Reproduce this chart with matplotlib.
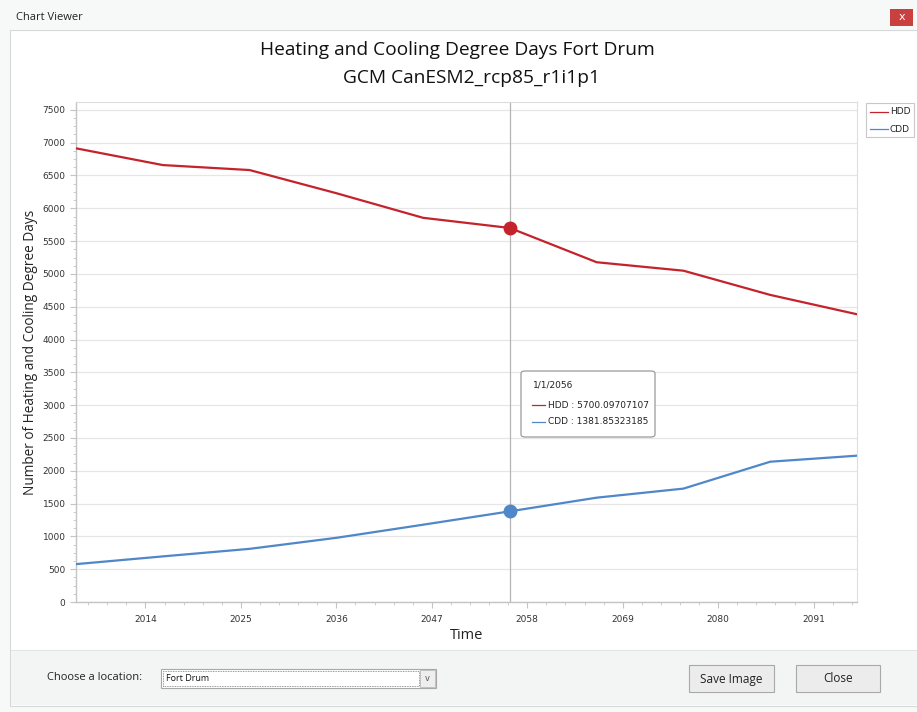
import matplotlib
matplotlib.use("Agg")
import matplotlib.pyplot as plt
from matplotlib.patches import Rectangle, FancyBboxPatch
from matplotlib.lines import Line2D
from matplotlib.ticker import MultipleLocator, FixedLocator

# ---------------- data ----------------
years = [2006, 2016, 2026, 2036, 2046, 2056, 2066, 2076, 2086, 2096]
hdd = [6914, 6659, 6583, 6230, 5855, 5700.09707107, 5178, 5049, 4680, 4385]
cdd = [577, 695, 810, 978, 1178, 1381.85323185, 1590, 1728, 2138, 2230]
xtick_years = [2014, 2025, 2036, 2047, 2058, 2069, 2080, 2091]
hover_year = 2056
hover_label = "1/1/2056"
title_lines = ["Heating and Cooling Degree Days Fort Drum", "GCM CanESM2_rcp85_r1i1p1"]

HDD_C = "#c4232c"
CDD_C = "#4f87c9"

W, H = 917, 712
fig = plt.figure(figsize=(W / 100, H / 100), dpi=100)
fig.patch.set_facecolor("white")


def fx(x):
    return x / W


def fy(y):
    return 1 - y / H


def rect(x0, y0, x1, y1, fc, ec="none", lw=0.8, z=0, **kw):
    r = Rectangle((fx(x0), fy(y1)), fx(x1) - fx(x0), fy(y0) - fy(y1),
                  transform=fig.transFigure, facecolor=fc, edgecolor=ec,
                  linewidth=lw, zorder=z, **kw)
    fig.patches.append(r)
    return r


# window chrome
rect(0, 0, W, H, "#f7f9f9", z=0)
rect(10, 30, W + 5, 706, "white", ec="#d6d9d9", z=0.5)
rect(11, 650, W + 5, 705, "#f3f5f5", ec="none", z=0.6)
fig.lines.append(Line2D([fx(11), fx(W)], [fy(650), fy(650)], transform=fig.transFigure,
                        color="#e4e6e6", lw=0.8, zorder=0.7))
fig.text(fx(16), fy(18), "Chart Viewer", fontsize=8, family="Open Sans",
         color="#222222", va="center", ha="left")
rect(890, 9, 913, 26, "#c9403f", z=1)
fig.text(fx(901.5), fy(17.5), "x", fontsize=8, color="white", ha="center", va="center",
         zorder=2)

# bottom panel controls
fig.text(fx(47), fy(677), "Choose a location:", fontsize=8, family="Open Sans",
         color="#222222", va="center", ha="left")
rect(161, 669, 436, 688, "white", ec="#a8a8a8", z=1)
rect(163, 671, 419, 686, "white", ec="#777777", lw=0.6, z=1.1, linestyle=(0, (1, 1)))
rect(420, 670, 435, 687, "#eeeeee", ec="#b8b8b8", lw=0.6, z=1.2)
fig.text(fx(427.5), fy(678.5), "v", fontsize=6, color="#555555", ha="center", va="center",
         zorder=2)
fig.text(fx(166), fy(678.5), "Fort Drum", fontsize=6.5, family="Open Sans",
         color="#111111", ha="left", va="center", zorder=2)
for (x0, x1, lab) in [(689, 774, "Save Image"), (796, 880, "Close")]:
    rect(x0, 665, x1, 692, "#ececec", ec="#a9a9a9", z=1)
    fig.text(fx((x0 + x1) / 2), fy(679), lab, fontsize=8.5, family="Open Sans",
             color="#222222", ha="center", va="center", zorder=2)

# titles
fig.text(fx(457), fy(50), title_lines[0], fontsize=13.8, family="Open Sans",
         color="#111111", ha="center", va="center")
fig.text(fx(471), fy(78), title_lines[1], fontsize=13.8, family="Open Sans",
         color="#111111", ha="center", va="center")

# ---------------- axes ----------------
ax_l, ax_r, ax_t, ax_b = 76, 857, 102, 602
ax = fig.add_axes([fx(ax_l), fy(ax_b), fx(ax_r) - fx(ax_l), fy(ax_t) - fy(ax_b)])
ax.set_facecolor("white")
ax.set_zorder(1)
ax.set_xlim(2006, 2096)
ax.set_ylim(0, 7620)

ax.yaxis.set_major_locator(MultipleLocator(500))
ax.yaxis.set_minor_locator(MultipleLocator(125))
ax.xaxis.set_major_locator(FixedLocator(xtick_years))
ax.xaxis.set_minor_locator(MultipleLocator(2.2, offset=2014 % 2.2))
ax.set_xticklabels([str(y) for y in xtick_years])

ax.grid(axis="y", which="major", color="#e6e6e6", lw=0.9, zorder=0)
for s in ["top", "right"]:
    ax.spines[s].set_color("#dddddd")
    ax.spines[s].set_linewidth(0.8)
for s in ["left", "bottom"]:
    ax.spines[s].set_color("#c4c4c4")
    ax.spines[s].set_linewidth(1.0)

ax.tick_params(axis="both", which="major", labelsize=6.5, colors="#c4c4c4",
               labelcolor="#333333", length=4, width=0.8)
ax.tick_params(axis="both", which="minor", colors="#cccccc", length=2.5, width=0.7)
ax.tick_params(axis="x", which="major", pad=5)
for lab in ax.get_xticklabels() + ax.get_yticklabels():
    lab.set_family("DejaVu Sans")

ax.plot(years, hdd, color=HDD_C, lw=1.6, zorder=3, label="HDD", solid_joinstyle="round")
ax.plot(years, cdd, color=CDD_C, lw=1.6, zorder=3, label="CDD", solid_joinstyle="round")

ax.axvline(hover_year, color="#b5b5b5", lw=0.9, zorder=2)
hi = years.index(hover_year)
ax.plot([hover_year], [hdd[hi]], "o", color=HDD_C, ms=9, zorder=4)
ax.plot([hover_year], [cdd[hi]], "o", color=CDD_C, ms=9, zorder=4)

ax.set_xlabel("Time", fontsize=10.5, family="Open Sans", color="#222222", labelpad=3)
ax.set_ylabel("Number of Heating and Cooling Degree Days", fontsize=9.8,
              family="Open Sans", color="#222222", labelpad=3)

# tooltip
tb = FancyBboxPatch((fx(521), fy(437)), fx(655) - fx(521), fy(371) - fy(437),
                    boxstyle="round,pad=0,rounding_size=0.004", transform=fig.transFigure,
                    facecolor="white", edgecolor="#9a9a9a", lw=0.9, zorder=5)
fig.patches.append(tb)
fig.text(fx(533), fy(385), hover_label, fontsize=6.5, family="DejaVu Sans",
         color="#222222", va="center", ha="left", zorder=6)
for yy, col, lab, val in [(405, HDD_C, "HDD", hdd[hi]), (422, CDD_C, "CDD", cdd[hi])]:
    fig.lines.append(Line2D([fx(532), fx(545)], [fy(yy), fy(yy)], transform=fig.transFigure,
                            color=col, lw=0.9, zorder=6))
    fig.text(fx(548), fy(yy), f"{lab} : {val:.8f}", fontsize=6.5, family="DejaVu Sans",
             color="#222222", va="center", ha="left", zorder=6)

# legend
rect(866, 103, 914, 137, "white", ec="#c8c8c8", z=5)
for yy, col, lab in [(112, HDD_C, "HDD"), (129, CDD_C, "CDD")]:
    fig.lines.append(Line2D([fx(870), fx(888)], [fy(yy), fy(yy)], transform=fig.transFigure,
                            color=col, lw=0.9, zorder=6))
    fig.text(fx(890), fy(yy), lab, fontsize=6.5, family="DejaVu Sans",
             color="#222222", va="center", ha="left", zorder=6)

fig.savefig("out.png", dpi=100, facecolor=fig.get_facecolor())
